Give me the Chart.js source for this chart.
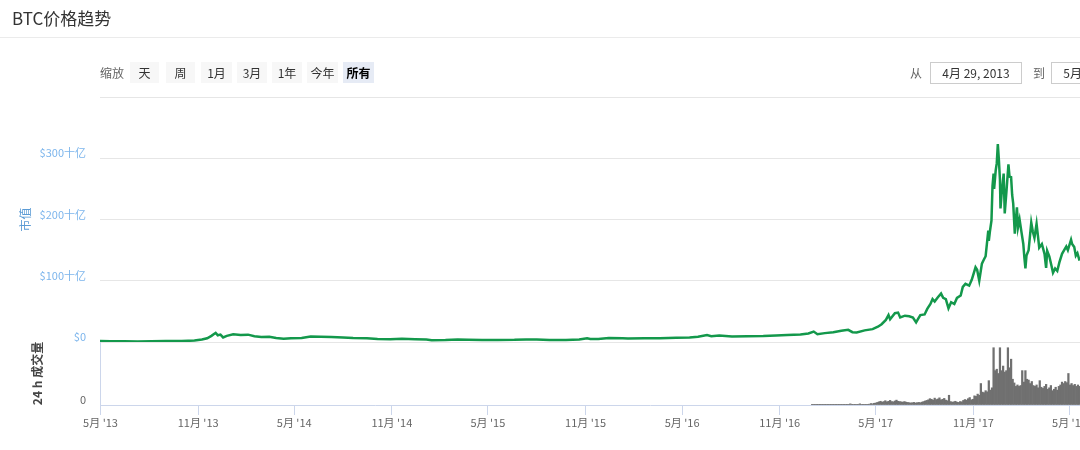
<!DOCTYPE html>
<html>
<head>
<meta charset="utf-8">
<script src="https://cdn.jsdelivr.net/npm/chart.js@4.4.1/dist/chart.umd.min.js"></script>
<style>
  html, body { margin: 0; padding: 0; background: #fff; overflow: hidden; width: 1080px; height: 450px; }
  body { position: relative; font-family: "Noto Sans CJK SC", "Noto Sans", sans-serif; }
  #wrap { position: absolute; left: 0; top: 0; width: 1200px; height: 450px; }
  .title { position: absolute; left: 12px; top: 6px; font-size: 17px; line-height: 24px; color: #333; }
  .sep { position: absolute; left: 0; top: 37px; width: 1080px; height: 1px; background: #ebebeb; }
  .lbl { position: absolute; top: 62px; height: 21px; line-height: 21px; font-size: 12px; color: #666; }
  .btn { position: absolute; top: 62px; height: 21px; line-height: 21px; font-size: 12px; color: #333;
         background: #f7f7f7; text-align: center; }
  .btn.on { background: #e6ebf5; font-weight: bold; color: #000; }
  .box { position: absolute; top: 62px; height: 20px; line-height: 20px; width: 90px; font-size: 12px; color: #333;
         border: 1px solid #ccc; text-align: center; background: #fff; }
</style>
</head>
<body>
<div id="wrap"><canvas id="btcChart" width="1200" height="450"></canvas></div>

<div class="title">BTC价格趋势</div>
<div class="sep"></div>

<div class="lbl" style="left:100px">缩放</div>
<div class="btn" style="left:130px;width:29px">天</div>
<div class="btn" style="left:166px;width:29px">周</div>
<div class="btn" style="left:201px;width:31px">1月</div>
<div class="btn" style="left:237px;width:30px">3月</div>
<div class="btn" style="left:272px;width:30px">1年</div>
<div class="btn" style="left:307px;width:31px">今年</div>
<div class="btn on" style="left:343px;width:31px">所有</div>

<div class="lbl" style="left:910px">从</div>
<div class="box" style="left:930px">4月 29, 2013</div>
<div class="lbl" style="left:1033px">到</div>
<div class="box" style="left:1051px">5月 20, 2018</div>

<script>
// --- DATA (market cap in $ billions, 24h volume in $ billions) ---
const capDates = [
  '2013-04-29','2013-05-20','2013-06-15','2013-07-10','2013-08-05','2013-09-01','2013-10-01','2013-10-25',
  '2013-11-08','2013-11-18','2013-11-26','2013-12-04','2013-12-08','2013-12-13','2013-12-18','2013-12-25',
  '2014-01-06','2014-01-20','2014-02-03','2014-02-15','2014-02-28','2014-03-15','2014-03-28','2014-04-11',
  '2014-04-25','2014-05-15','2014-06-01','2014-06-20','2014-07-10','2014-08-01','2014-08-20','2014-09-15',
  '2014-10-05','2014-10-29','2014-11-20','2014-12-15','2015-01-05','2015-01-15','2015-02-10','2015-03-05',
  '2015-03-25','2015-04-20','2015-05-20','2015-06-20','2015-07-12','2015-08-01','2015-08-25','2015-09-25',
  '2015-10-20','2015-11-04','2015-11-10','2015-11-25','2015-12-15','2016-01-10','2016-01-20','2016-02-20',
  '2016-03-20','2016-04-20','2016-05-15','2016-05-31','2016-06-17','2016-06-25','2016-07-10','2016-08-03',
  '2016-09-01','2016-10-01','2016-10-25','2016-11-15','2016-12-10','2016-12-25','2017-01-04','2017-01-11',
  '2017-01-25','2017-02-10','2017-02-25','2017-03-10','2017-03-18','2017-03-26','2017-04-10','2017-04-25',
  '2017-05-05','2017-05-12','2017-05-20','2017-05-25','2017-05-28','2017-06-06','2017-06-12','2017-06-16',
  '2017-06-25','2017-07-03','2017-07-10','2017-07-16','2017-07-20','2017-07-24','2017-08-01','2017-08-06',
  '2017-08-12','2017-08-16','2017-08-20','2017-08-26','2017-09-01','2017-09-05','2017-09-10','2017-09-15',
  '2017-09-20','2017-09-26','2017-10-01','2017-10-08','2017-10-12','2017-10-17','2017-10-24','2017-10-29',
  '2017-11-05','2017-11-08','2017-11-12','2017-11-17','2017-11-21','2017-11-24','2017-11-29','2017-11-30',
  '2017-12-02','2017-12-05','2017-12-07','2017-12-09','2017-12-10','2017-12-13','2017-12-15','2017-12-17',
  '2017-12-19','2017-12-21','2017-12-22','2017-12-24','2017-12-28','2017-12-30','2018-01-02','2018-01-06',
  '2018-01-08','2018-01-11','2018-01-13','2018-01-15','2018-01-18','2018-01-20','2018-01-22','2018-01-24',
  '2018-01-27','2018-01-31','2018-02-03','2018-02-05','2018-02-07','2018-02-09','2018-02-13','2018-02-18',
  '2018-02-21','2018-02-24','2018-02-28','2018-03-03','2018-03-05','2018-03-10','2018-03-15','2018-03-18',
  '2018-03-20','2018-03-24','2018-03-28','2018-03-31','2018-04-04','2018-04-08','2018-04-12','2018-04-17',
  '2018-04-21','2018-04-25','2018-04-28','2018-05-04','2018-05-06','2018-05-10','2018-05-13','2018-05-16',
  '2018-05-20'
];
const capValues = [
  1.5, 1.4, 1.2, 1.0, 1.2, 1.5, 1.6, 2.3,
  4, 6, 10, 15, 11, 12, 7.5, 10,
  12.5, 11.5, 12, 9.5, 8, 8.5, 6.5, 5.5,
  6, 6.5, 9, 8.5, 8, 7.5, 6.5, 6,
  4.8, 4.5, 5.2, 4.5, 4, 2.8, 3.2, 4,
  3.5, 3.2, 3.4, 3.5, 4.2, 4, 3.2, 3.4,
  4, 6, 4.8, 4.8, 6.6, 6.3, 5.8, 6.3,
  6.3, 7, 7.2, 8.5, 11.5, 9.5, 10.5, 8.8,
  9.5, 9.8, 10.5, 11.4, 12.3, 14, 17, 12.8,
  14.5, 16, 18.5, 19.8, 16, 15.5, 19, 21,
  25, 29, 36, 44, 37, 47, 48, 40,
  43, 42, 40, 32, 38, 44, 45, 54,
  62, 70, 66, 73, 79, 72, 70, 55,
  65, 62, 72, 76, 90, 95, 92, 102,
  122, 118, 100, 128, 135, 140, 182, 165,
  180, 198, 255, 275, 250, 280, 292, 323,
  297, 265, 218, 240, 275, 210, 243, 290,
  270, 269, 240, 226, 177, 200, 220, 187,
  200, 177, 160, 138, 120, 141, 150, 195,
  180, 170, 193, 170, 154, 160, 144, 121,
  149, 140, 125, 113, 120, 116, 130, 144,
  150, 156, 150, 167, 160, 155, 141, 145,
  133
];

// volume bars, one every VOL_STEP days from VOL_START
const VOL_START = '2017-01-01';
const VOL_STEP = 3;
const volValues = [
  0.02,0.02,0.02,0.02,0.02,0.02,0.02,0.02,0.02,0.02,0.02,0.02,0.02,0.02,0.02,0.02,0.02,0.02,0.02,0.02,0.02,
  0.02,0.02,0.02,0.4,0.02,0.02,0.02,0.02,0.02,0.4,0.02,0.02,0.02,0.05,0.05,0.3,0.5,0.4,0.6,0.7,0.9,
  1.1,1.3,1.0,1.2,1.5,1.1,1.3,1.6,1.2,1.1,1.4,1.7,1.3,1.2,1.1,1.0,1.2,1.0,0.9,
  0.8,0.7,0.8,0.9,0.7,0.8,0.9,0.8,1.0,1.2,1.4,1.6,
  1.8,2.2,2.0,1.7,2.4,1.9,2.1,2.5,1.8,2.0,2.3,1.7,1.5,
  3.4,
  1.2,1.0,1.1,1.3,1.0,0.9,1.2,1.1,
  1.6,1.9,1.7,2.2,2.6,1.8,2.0,3.2,
  3.0,3.8,3.4,7.5,
  4.5,4.3,5.0,4.6,
  8.5,5.2,6.0,20,12,12.5,11,20,12,13.6,11.5,12,20,13,16,9,7.7,6.5,7.0,6.5,6.8,12,8,12,9,
  8.7,7.5,8.2,6.8,
  6.5,7.0,6.0,8.5,6.2,5.8,6.5,7.2,5.5,6.0,6.8,5.0,5.5,6.2,5.2,6.5,7.0,
  8.0,7.5,8.2,7.8,11,
  7.0,7.5,6.8,7.2,6.5,7.0,6.5,6.0
];

const tickDates = ['2013-05-01','2013-11-01','2014-05-01','2014-11-01','2015-05-01','2015-11-01',
  '2016-05-01','2016-11-01','2017-05-01','2017-11-01','2018-05-01'];
const tickLabels = ["5月 '13","11月 '13","5月 '14","11月 '14","5月 '15","11月 '15",
  "5月 '16","11月 '16","5月 '17","11月 '17","5月 '18"];

const X_FROM = '2013-04-30';
const X_TO = '2019-01-02';

// --- HELPERS ---
const DAY_MS = 86400000;
const ORIGIN = Date.parse('2013-05-01');
const toDay = s => (Date.parse(s) - ORIGIN) / DAY_MS;

const capPoints = capDates.map((d, i) => ({ x: toDay(d), y: capValues[i] }));
const volPoints = volValues.map((v, i) => ({ x: toDay(VOL_START) + i * VOL_STEP, y: v }));
const tickDays = tickDates.map(toDay);

Chart.defaults.font.family = '"Noto Sans CJK SC", "Noto Sans", sans-serif';
Chart.defaults.font.size = 11;

new Chart(document.getElementById('btcChart').getContext('2d'), {
  type: 'bar',
  data: {
    datasets: [
      {
        type: 'line', label: '市值', data: capPoints, xAxisID: 'x', yAxisID: 'y',
        borderColor: '#13984b', borderWidth: 2.5, pointRadius: 0, tension: 0, fill: false, order: 0
      },
      {
        type: 'bar', label: '24 h 成交量', data: volPoints, xAxisID: 'x', yAxisID: 'yVol',
        backgroundColor: '#707070', barPercentage: 1, categoryPercentage: 1, order: 1
      }
    ]
  },
  options: {
    responsive: false,
    animation: false,
    layout: { padding: { top: 97, left: 0, right: 0, bottom: 0 } },
    plugins: { legend: { display: false }, tooltip: { enabled: false } },
    scales: {
      x: {
        type: 'linear', position: 'bottom', offset: false,
        min: toDay(X_FROM), max: toDay(X_TO),
        afterBuildTicks: s => { s.ticks = tickDays.map(v => ({ value: v })); },
        afterFit: s => { s.height = 45; },
        ticks: {
          autoSkip: false, maxRotation: 0, color: '#666', padding: 1,
          callback: (v, i) => tickLabels[i]
        },
        grid: { offset: false, drawOnChartArea: false, drawTicks: true, tickLength: 10, color: '#ccd6eb' },
        border: { display: true, color: '#ccd6eb' }
      },
      yVol: {
        type: 'linear', position: 'left', stack: 'btc', stackWeight: 63,
        min: 0, max: 22,
        afterBuildTicks: s => { s.ticks = [{ value: 0 }]; },
        afterFit: s => { s.width = 100; },
        ticks: { color: '#666', padding: 14, labelOffset: -5 },
        grid: { drawOnChartArea: false, drawTicks: false },
        border: { display: true, color: '#ccd6eb' },
        title: { display: true, text: '24 h 成交量', color: '#444', font: { size: 12, weight: 'bold' }, padding: { top: 30 } }
      },
      y: {
        type: 'linear', position: 'left', stack: 'btc', stackWeight: 245,
        min: 0, max: 400,
        afterFit: s => { s.width = 100; },
        ticks: {
          stepSize: 100, color: '#7cb5ec', padding: 14, labelOffset: -5,
          callback: v => v === 400 ? '' : (v === 0 ? '$0' : '$' + v + '十亿')
        },
        grid: { color: '#e6e6e6', drawTicks: false },
        border: { display: false },
        title: { display: true, text: '市值', color: '#5b9bd5', font: { size: 12 }, padding: { top: 18 } }
      }
    }
  }
});
</script>
</body>
</html>
